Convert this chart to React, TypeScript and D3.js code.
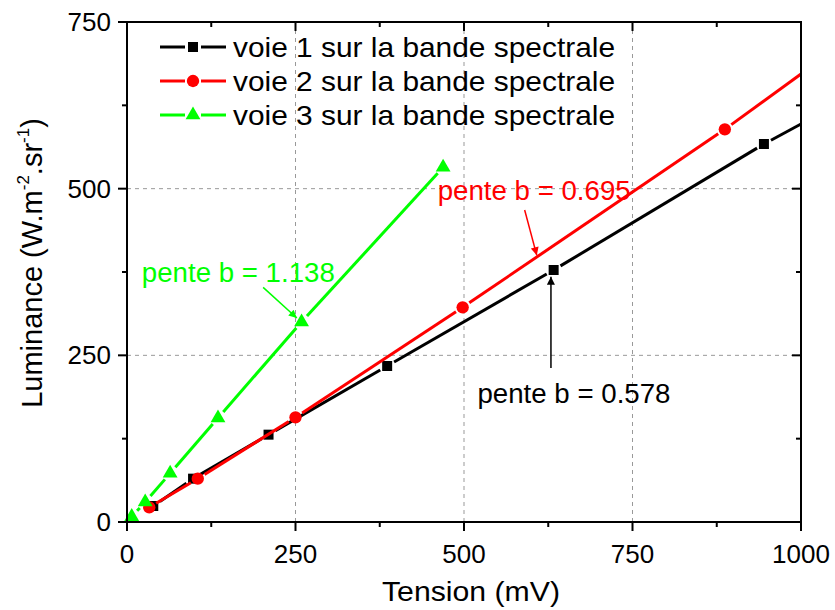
import { useEffect, useRef } from 'react'
import * as d3 from 'd3'

// voie 1 (black squares)
const voie1Tension = [39, 98, 210, 386, 633, 945]
const voie1Lum = [24, 65, 131, 234, 378, 567]
const voie1End = 597 // value of the line at 1000 mV

// voie 2 (red circles)
const voie2Tension = [33, 105, 250, 498, 887]
const voie2Lum = [22, 65, 157, 322, 589]
const voie2End = 672

// voie 3 (green triangles)
const voie3Tension = [7, 27, 64, 135, 259, 469]
const voie3Lum = [8, 30, 73, 156, 300, 532]

const xTicks = [0, 250, 500, 750, 1000]
const yTicks = [0, 250, 500, 750]
const legendLabels = [
  'voie 1 sur la bande spectrale',
  'voie 2 sur la bande spectrale',
  'voie 3 sur la bande spectrale',
]

// slope annotations: text anchor + arrow (data coords)
const annotations = [
  { text: 'pente b = 1.138', color: '#00ff00', tx: 22, ty: 360, from: [202, 352], to: [252, 306] },
  { text: 'pente b = 0.695', color: '#ff0000', tx: 461, ty: 483, from: [590, 468], to: [608, 400] },
  { text: 'pente b = 0.578', color: '#000000', tx: 520, ty: 178, from: [629, 231], to: [629, 368] },
]

const FONT = '"Liberation Sans", Arial, Helvetica, sans-serif'

export default function App() {
  const svgRef = useRef<SVGSVGElement>(null)

  useEffect(() => {
    if (!svgRef.current) return
    const svg = d3.select(svgRef.current)
    svg.selectAll('*').remove()

    const x = d3.scaleLinear().domain([0, 1000]).range([127, 801])
    const y = d3.scaleLinear().domain([0, 750]).range([522, 22])

    const series = [
      { xs: voie1Tension, ys: voie1Lum, end: voie1End as number | null, color: '#000000', shape: d3.symbolSquare, size: 100 },
      { xs: voie2Tension, ys: voie2Lum, end: voie2End as number | null, color: '#ff0000', shape: d3.symbolCircle, size: 120 },
      { xs: voie3Tension, ys: voie3Lum, end: null, color: '#00ff00', shape: d3.symbolTriangle, size: 95 },
    ]

    // arrow heads
    const defs = svg.append('defs')
    annotations.forEach((a, i) => {
      defs.append('marker')
        .attr('id', `arr${i}`)
        .attr('viewBox', '0 0 10 10')
        .attr('refX', 10).attr('refY', 5)
        .attr('markerWidth', 10).attr('markerHeight', 8)
        .attr('markerUnits', 'userSpaceOnUse')
        .attr('orient', 'auto')
        .append('path')
        .attr('d', 'M0,0 L10,5 L0,10 Z')
        .attr('fill', a.color)
    })

    // grid
    const grid = svg.append('g').attr('stroke', '#999').attr('stroke-width', 1).attr('stroke-dasharray', '4,4')
    grid.selectAll('.gx').data([250, 500, 750]).enter().append('line')
      .attr('x1', d => x(d)).attr('x2', d => x(d)).attr('y1', y(0)).attr('y2', y(750))
    grid.selectAll('.gy').data([250, 500]).enter().append('line')
      .attr('y1', d => y(d)).attr('y2', d => y(d)).attr('x1', x(0)).attr('x2', x(1000))

    // lines with small gaps around markers
    const gap = 8
    const drawGapped = (g: d3.Selection<SVGGElement, unknown, null, undefined>, pts: [number, number, boolean][], color: string) => {
      for (let i = 0; i < pts.length - 1; i++) {
        const [x1, y1, m1] = pts[i]
        const [x2, y2, m2] = pts[i + 1]
        const len = Math.hypot(x2 - x1, y2 - y1)
        const ux = (x2 - x1) / len, uy = (y2 - y1) / len
        const s = m1 ? gap : 0, e = m2 ? gap : 0
        if (len <= s + e) continue
        g.append('line')
          .attr('x1', x1 + ux * s).attr('y1', y1 + uy * s)
          .attr('x2', x2 - ux * e).attr('y2', y2 - uy * e)
          .attr('stroke', color).attr('stroke-width', 3)
      }
    }

    const plot = svg.append('g')
    series.forEach(s => {
      const pts: [number, number, boolean][] = s.xs.map((v, i) => [x(v), y(s.ys[i]), true])
      if (s.end !== null) pts.push([x(1000), y(s.end), false])
      drawGapped(plot.append('g'), pts, s.color)
      plot.append('g').selectAll('path').data(s.xs).enter().append('path')
        .attr('transform', (d, i) => `translate(${x(d)},${y(s.ys[i])})`)
        .attr('d', d3.symbol().type(s.shape).size(s.size)())
        .attr('fill', s.color)
    })

    // axes frame
    const frame = svg.append('g').attr('stroke', '#000').attr('stroke-width', 2)
    frame.append('rect')
      .attr('x', x(0)).attr('y', y(750))
      .attr('width', x(1000) - x(0)).attr('height', y(0) - y(750))
      .attr('fill', 'none')

    const minorX = [125, 375, 625, 875]
    const minorY = [125, 375, 625]
    // bottom & left ticks point out, top & right point in
    frame.selectAll('.tb').data(xTicks).enter().append('line')
      .attr('x1', d => x(d)).attr('x2', d => x(d)).attr('y1', y(0)).attr('y2', y(0) + 9)
    frame.selectAll('.tbm').data(minorX).enter().append('line')
      .attr('x1', d => x(d)).attr('x2', d => x(d)).attr('y1', y(0)).attr('y2', y(0) + 5)
    frame.selectAll('.tt').data(xTicks).enter().append('line')
      .attr('x1', d => x(d)).attr('x2', d => x(d)).attr('y1', y(750)).attr('y2', y(750) + 9)
    frame.selectAll('.ttm').data(minorX).enter().append('line')
      .attr('x1', d => x(d)).attr('x2', d => x(d)).attr('y1', y(750)).attr('y2', y(750) + 5)
    frame.selectAll('.tl').data(yTicks).enter().append('line')
      .attr('y1', d => y(d)).attr('y2', d => y(d)).attr('x1', x(0)).attr('x2', x(0) - 9)
    frame.selectAll('.tlm').data(minorY).enter().append('line')
      .attr('y1', d => y(d)).attr('y2', d => y(d)).attr('x1', x(0)).attr('x2', x(0) - 5)
    frame.selectAll('.tr').data(yTicks).enter().append('line')
      .attr('y1', d => y(d)).attr('y2', d => y(d)).attr('x1', x(1000)).attr('x2', x(1000) - 9)
    frame.selectAll('.trm').data(minorY).enter().append('line')
      .attr('y1', d => y(d)).attr('y2', d => y(d)).attr('x1', x(1000)).attr('x2', x(1000) - 5)

    // tick labels
    svg.append('g').selectAll('text').data(xTicks).enter().append('text')
      .attr('x', d => x(d)).attr('y', y(0) + 41)
      .attr('text-anchor', 'middle')
      .attr('font-family', FONT).attr('font-size', 26)
      .text(d => d)
    svg.append('g').selectAll('text').data(yTicks).enter().append('text')
      .attr('x', x(0) - 16).attr('y', d => y(d) + 9)
      .attr('text-anchor', 'end')
      .attr('font-family', FONT).attr('font-size', 26)
      .text(d => d)

    // axis titles
    svg.append('text')
      .attr('x', 471).attr('y', 601)
      .attr('text-anchor', 'middle')
      .attr('font-family', FONT).attr('font-size', 28)
      .attr('textLength', 178).attr('lengthAdjust', 'spacingAndGlyphs')
      .text('Tension (mV)')

    const yt = svg.append('text')
      .attr('transform', 'translate(42,263) rotate(-90)')
      .attr('text-anchor', 'middle')
      .attr('font-family', FONT).attr('font-size', 29)
    yt.append('tspan').text('Luminance (W.m')
    yt.append('tspan').attr('font-size', 17).attr('dy', -13).text('-2')
    yt.append('tspan').attr('dy', 13).text('.sr')
    yt.append('tspan').attr('font-size', 17).attr('dy', -13).text('-1')
    yt.append('tspan').attr('dy', 13).text(')')

    // legend
    const leg = svg.append('g')
    series.forEach((s, i) => {
      const ly = 47 + i * 34
      drawGapped(leg.append('g'), [[160, ly, false], [193, ly, true], [226, ly, false]], s.color)
      leg.append('path')
        .attr('transform', `translate(193,${ly})`)
        .attr('d', d3.symbol().type(s.shape).size(s.size)())
        .attr('fill', s.color)
      leg.append('text')
        .attr('x', 233).attr('y', ly + 10)
        .attr('font-family', FONT).attr('font-size', 28)
        .attr('textLength', 382).attr('lengthAdjust', 'spacingAndGlyphs')
        .text(legendLabels[i])
    })

    // slope annotations
    annotations.forEach((a, i) => {
      svg.append('text')
        .attr('x', x(a.tx)).attr('y', y(a.ty))
        .attr('font-family', FONT).attr('font-size', 27)
        .attr('fill', a.color)
        .attr('textLength', 193).attr('lengthAdjust', 'spacingAndGlyphs')
        .text(a.text)
      svg.append('line')
        .attr('x1', x(a.from[0])).attr('y1', y(a.from[1]))
        .attr('x2', x(a.to[0])).attr('y2', y(a.to[1]))
        .attr('stroke', a.color).attr('stroke-width', 1.5)
        .attr('marker-end', `url(#arr${i})`)
    })
  }, [])

  return (
    <svg
      ref={svgRef}
      width={835}
      height={610}
      style={{ position: 'absolute', left: 0, top: 0, background: '#fff' }}
    />
  )
}
